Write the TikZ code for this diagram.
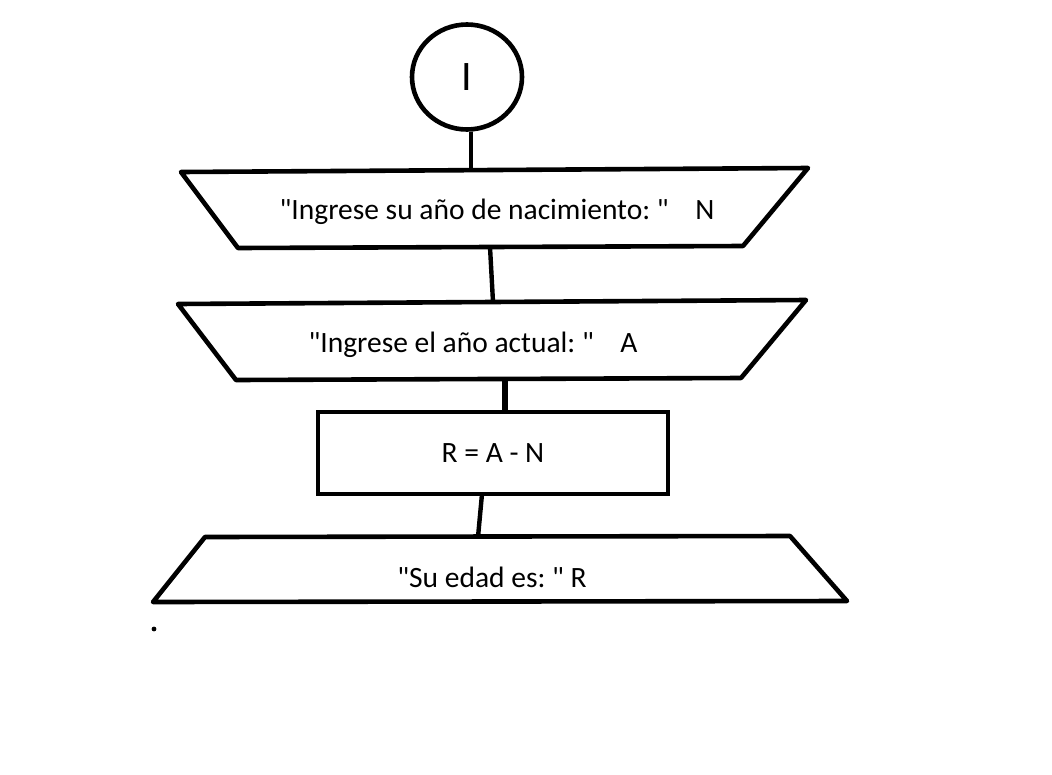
\documentclass[tikz,border=0pt]{standalone}
\usepackage{fontspec}
\setmainfont{Carlito}[Ligatures=TeXOff]
\usetikzlibrary{shapes.geometric}
\frenchspacing
\begin{document}
\begin{tikzpicture}[x=1pt,y=-1pt,
  shapeline/.style={line width=4.6pt, line cap=round, line join=round},
  conn/.style={line width=4.4pt},
  lbl/.style={inner sep=0pt, font=\fontsize{29.5}{34}\selectfont},
]
\useasboundingbox (0,0) rectangle (1052,774);
% start circle
\node[draw, shapeline, ellipse, minimum width=110pt, minimum height=105pt, inner sep=0pt,
      font=\fontsize{42}{48}\selectfont] (start) at (467,77) {I};
% trapezoid 1
\coordinate (t1a) at (181,172); \coordinate (t1b) at (808,168);
\coordinate (t1c) at (743,246); \coordinate (t1d) at (238,248);
\draw[shapeline] (t1a) -- (t1b) -- (t1c) -- (t1d) -- cycle;
\node[lbl] (in1) at (497,212) {"Ingrese su año de nacimiento: "\hspace{0.9em}N};
% trapezoid 2
\coordinate (t2a) at (178,304); \coordinate (t2b) at (806,300);
\coordinate (t2c) at (741,378); \coordinate (t2d) at (236,380);
\draw[shapeline] (t2a) -- (t2b) -- (t2c) -- (t2d) -- cycle;
\node[lbl] (in2) at (473,345) {"Ingrese el año actual: "\hspace{0.9em}A};
% process
\node[draw, shapeline, line join=miter, minimum width=350pt, minimum height=82pt, inner sep=0pt, lbl] (proc) at (493,453) {R = A - N};
% output trapezoid
\coordinate (t3a) at (205,537); \coordinate (t3b) at (790,536);
\coordinate (t3c) at (847,601); \coordinate (t3d) at (153,602);
\draw[shapeline] (t3a) -- (t3b) -- (t3c) -- (t3d) -- cycle;
\node[lbl] (out) at (492,577) {"Su edad es: " R};
% connectors
\coordinate (c1) at (471,170);
\draw[conn] (start.south) ++(4,0) coordinate (s0) -- (c1);
\coordinate (c2a) at (490,247); \coordinate (c2b) at (493,302);
\draw[conn] (c2a) -- (c2b);
\coordinate (c3a) at (505,379); \coordinate (c3b) at (505,412);
\draw[line width=6.5pt] (c3a) -- (c3b);
\coordinate (c4a) at (482,494); \coordinate (c4b) at (478,537);
\draw[conn] (c4a) -- (c4b);
% stray dot
\fill (154,629) circle (2.4pt);
\end{tikzpicture}
\end{document}
